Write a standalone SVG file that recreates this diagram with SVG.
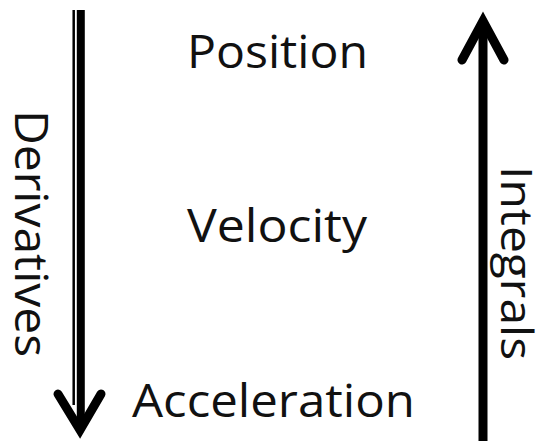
<svg xmlns="http://www.w3.org/2000/svg" width="541" height="441" viewBox="0 0 541 441">
  <style>
    .lbl { font-family: "Open Sans", "Liberation Sans", sans-serif; font-size: 46px; fill: #111; }
    .shaft { stroke: #000; fill: none; }
    .head { stroke: #000; fill: none; stroke-width: 9; stroke-linecap: round; stroke-linejoin: miter; stroke-miterlimit: 10; }
  </style>
  <rect width="541" height="441" fill="#fff"/>
  <g id="connectors">
    <g id="derivatives-arrow">
      <line class="shaft" x1="73.7" y1="10" x2="73.7" y2="405" stroke-width="2.5" stroke="#333"/>
      <line class="shaft" x1="80.8" y1="10" x2="80.8" y2="430" stroke-width="8"/>
      <polyline class="head" points="58,394 80,430 101,394"/>
    </g>
    <g id="integrals-arrow">
      <line class="shaft" x1="483" y1="22" x2="483" y2="441" stroke-width="9"/>
      <polyline class="head" points="462,60 483,21 504,60"/>
    </g>
  </g>
  <g id="position"><text class="lbl" x="187" y="68" textLength="181" lengthAdjust="spacingAndGlyphs">Position</text></g>
  <g id="velocity"><text class="lbl" x="187" y="242" textLength="180" lengthAdjust="spacingAndGlyphs">Velocity</text></g>
  <g id="acceleration"><text class="lbl" x="132" y="417" textLength="283" lengthAdjust="spacingAndGlyphs">Acceleration</text></g>
  <g id="derivatives-label"><text class="lbl" transform="translate(15,110) rotate(90)" textLength="247" lengthAdjust="spacingAndGlyphs">Derivatives</text></g>
  <g id="integrals-label"><text class="lbl" style="font-size:44px" transform="translate(501,166) rotate(90)" textLength="194" lengthAdjust="spacingAndGlyphs">Integrals</text></g>
</svg>
